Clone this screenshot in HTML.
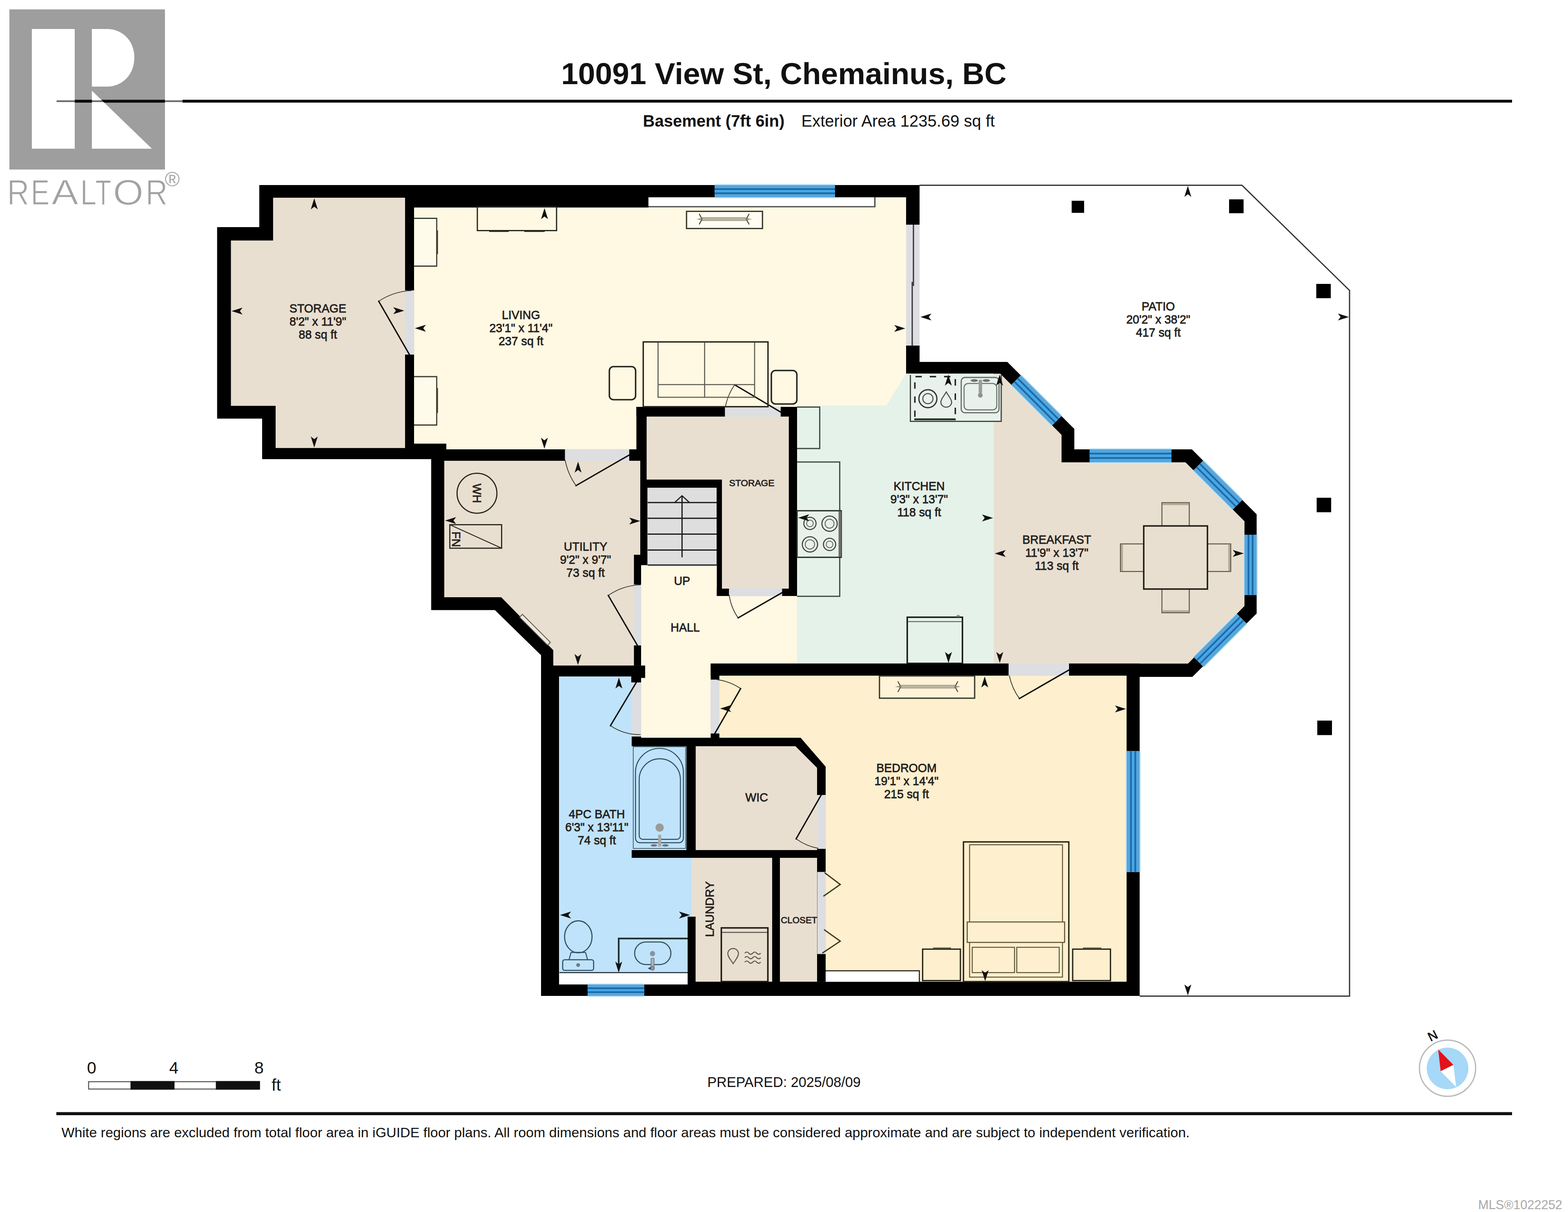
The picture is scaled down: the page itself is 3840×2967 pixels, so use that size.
<!DOCTYPE html>
<html lang="en"><head><meta charset="utf-8"><title>10091 View St, Chemainus, BC - Basement floor plan</title>
<style>
html,body{margin:0;padding:0;background:#fff;}
body{width:3840px;height:2967px;overflow:hidden;}
svg{display:block;font-family:"Liberation Sans",sans-serif;}
</style></head><body>
<svg width="3840" height="2967" viewBox="0 0 3840 2967">
<rect width="3840" height="2967" fill="#fff"/>
<text x="1919.5" y="206.0" font-size="75" text-anchor="middle" font-weight="bold" fill="#111" >10091 View St, Chemainus, BC</text>
<rect x="138.0" y="244.2" width="3565.0" height="7.0" fill="#0a0a0a" />
<text x="1574.5" y="310.0" font-size="40" text-anchor="start" font-weight="bold" fill="#111" >Basement (7ft 6in)</text>
<text x="1962.5" y="310.0" font-size="40" text-anchor="start" font-weight="normal" fill="#111" >Exterior Area 1235.69 sq ft</text>
<g id="realtor-logo" aria-label="REALTOR®"><title>REALTOR®</title>
<rect x="130.0" y="240.0" width="317.0" height="16.0" fill="#fff" />
<rect x="23.0" y="23.0" width="381.0" height="392.0" fill="#9e9e9e" />
<rect x="78.0" y="71.0" width="105.0" height="293.0" fill="#fff" />
<path d="M225,71 L262,71 C300,71 329,100 329,141 C329,182 300,212 262,212 L225,212 Z" fill="#fff"/>
<path d="M225,222 L372,364 L225,364 Z" fill="#fff"/>
<rect x="138.5" y="245.6" width="44.5" height="4.2" fill="#6a6a6a" />
<rect x="183.0" y="244.2" width="42.5" height="7.0" fill="#0a0a0a" />
<rect x="225.5" y="245.6" width="28.5" height="4.2" fill="#6a6a6a" />
<polygon points="248,244.2 404,244.2 404,251.2 255.2,251.2" fill="#0a0a0a"/>
<rect x="404.0" y="245.6" width="43.0" height="4.2" fill="#6a6a6a" />
<text y="501" font-size="87" fill="#a2a2a2" stroke="#fff" stroke-width="1.6"><tspan x="17.5" textLength="54" lengthAdjust="spacingAndGlyphs">R</tspan><tspan x="75.5" textLength="46" lengthAdjust="spacingAndGlyphs">E</tspan><tspan x="126" textLength="66" lengthAdjust="spacingAndGlyphs">A</tspan><tspan x="196.5" textLength="40" lengthAdjust="spacingAndGlyphs">L</tspan><tspan x="233.5" textLength="39" lengthAdjust="spacingAndGlyphs">T</tspan><tspan x="276.5" textLength="75" lengthAdjust="spacingAndGlyphs">O</tspan><tspan x="356.5" textLength="54" lengthAdjust="spacingAndGlyphs">R</tspan></text>
<text x="403.5" y="455.5" font-size="50" fill="#a6a6a6">®</text>
</g>
<g id="plan">
<polyline points="2252,453.5 3041.5,453.5 3305,711 3305,2438.5 2791,2438.5" fill="none" stroke="#333" stroke-width="3"/>
<rect x="2624.5" y="491.5" width="30.5" height="29.5" fill="#000" />
<rect x="3010.0" y="488.0" width="35.5" height="34.0" fill="#000" />
<rect x="3223.5" y="695.0" width="35.5" height="35.0" fill="#000" />
<rect x="3224.5" y="1218.5" width="35.5" height="35.5" fill="#000" />
<rect x="3226.0" y="1764.0" width="36.0" height="35.5" fill="#000" />
<polygon points="635.0,453.0 2252.0,453.0 2252.0,886.0 2467.0,886.0 2631.0,1050.0 2631.0,1100.0 2919.0,1100.0 3077.5,1259.0 3077.5,1502.0 2920.0,1657.0 2791.0,1657.0 2791.0,2438.0 1325.0,2438.0 1325.0,1604.0 1212.0,1493.5 1056.0,1493.5 1056.0,1124.0 642.0,1124.0 642.0,1024.7 531.7,1024.7 531.7,556.0 635.0,556.0" fill="#000" />
<polygon points="668.8,484.0 992.0,484.0 992.0,1096.7 675.0,1096.7 675.0,993.4 565.5,993.4 565.5,588.8 668.8,588.8" fill="#e9dfd0" />
<polygon points="1014.0,508.0 1588.0,508.0 1588.0,483.0 2219.0,483.0 2219.0,1000.0 1952.0,1000.0 1952.0,1100.0 1093.0,1100.0 1093.0,1086.0 1014.0,1086.0" fill="#fff8e2" />
<polygon points="1570.0,1382.0 1953.0,1382.0 1953.0,1624.5 1761.7,1624.5 1761.7,1806.0 1547.0,1806.0 1547.0,1629.5 1570.0,1629.5" fill="#fff8e2" />
<polygon points="1952.0,992.5 2171.0,992.5 2219.0,914.5 2434.0,914.5 2434.0,1624.5 1952.0,1624.5" fill="#e5f2e9" />
<polygon points="2434.0,914.8 2449.5,914.8 2599.7,1064.5 2599.7,1131.8 2903.3,1131.8 3047.7,1276.0 3047.7,1483.4 2909.5,1624.5 2434.0,1624.5" fill="#e9dfd0" />
<polygon points="1088.0,1128.0 1570.0,1128.0 1570.0,1629.5 1355.0,1629.5 1355.0,1591.7 1227.5,1462.0 1088.0,1462.0" fill="#e9dfd0" />
<polygon points="1583.0,1019.7 1932.0,1019.7 1932.0,1458.0 1768.0,1458.0 1768.0,1174.0 1583.0,1174.0" fill="#e9dfd0" />
<rect x="1585.0" y="1193.6" width="170.0" height="189.0" fill="#dedede" />
<polygon points="1369.0,1656.0 1570.0,1656.0 1570.0,1826.6 1681.0,1826.6 1681.0,2100.0 1693.0,2100.0 1693.0,2410.0 1369.0,2410.0" fill="#bfe3fb" />
<rect x="1693.0" y="2100.0" width="198.0" height="303.5" fill="#e9dfd0" />
<rect x="1910.0" y="2100.0" width="112.0" height="303.5" fill="#e9dfd0" />
<polygon points="1703.5,1826.6 1948.0,1826.6 2001.0,1879.5 2022.0,1946.5 2022.0,2081.0 1703.5,2081.0" fill="#e9dfd0" />
<polygon points="1740.5,1654.0 2759.0,1654.0 2759.0,2403.5 2022.0,2403.5 2022.0,1877.0 1960.5,1806.0 1740.5,1806.0" fill="#feefce" />
<rect x="1588.0" y="483.0" width="554.5" height="23.0" fill="#fff" />
<path d="M1588,506 H2142.5 V483" fill="none" stroke="#4a4c49" stroke-width="3.2"/>
<rect x="1370.0" y="2381.0" width="314.0" height="29.5" fill="#fff" />
<rect x="2022.0" y="2376.5" width="229.0" height="27.5" fill="#fff" />
<path d="M2022,2376.5 H2251.5 V2404" fill="none" stroke="#3c3a30" stroke-width="3"/>
<rect x="992.0" y="484.0" width="22.0" height="616.0" fill="#000" />
<rect x="1056.0" y="1100.0" width="514.0" height="28.0" fill="#000" />
<rect x="1014.0" y="1086.0" width="79.0" height="14.0" fill="#000" />
<rect x="1558.5" y="996.0" width="393.5" height="23.8" fill="#000" />
<rect x="1558.5" y="996.0" width="25.1" height="132.0" fill="#000" />
<rect x="1931.8" y="996.0" width="20.2" height="463.0" fill="#000" />
<rect x="1568.0" y="1128.0" width="15.6" height="47.0" fill="#000" />
<rect x="1568.0" y="1174.0" width="17.5" height="209.5" fill="#000" />
<rect x="1570.0" y="1174.0" width="198.0" height="19.8" fill="#000" />
<rect x="1755.5" y="1174.0" width="12.5" height="285.0" fill="#000" />
<rect x="1755.5" y="1441.0" width="196.5" height="18.0" fill="#000" />
<rect x="1552.5" y="1358.0" width="17.5" height="271.5" fill="#000" />
<rect x="1325.0" y="1629.5" width="255.0" height="26.5" fill="#000" />
<rect x="1546.0" y="1629.5" width="34.0" height="30.1" fill="#000" />
<rect x="1546.0" y="1659.0" width="24.0" height="11.6" fill="#000" />
<rect x="1547.0" y="1656.0" width="23.0" height="170.6" fill="#000" />
<polygon points="1547.0,1806.0 1960.5,1806.0 2022.0,1877.0 2022.0,1946.5 2001.0,1946.5 2001.0,1879.5 1948.0,1826.6 1547.0,1826.6" fill="#000" />
<rect x="1740.5" y="1624.5" width="1050.5" height="29.5" fill="#000" />
<rect x="1740.5" y="1624.5" width="21.2" height="201.5" fill="#000" />
<rect x="1681.0" y="1826.6" width="22.5" height="273.4" fill="#000" />
<rect x="1547.0" y="2081.0" width="475.0" height="19.0" fill="#000" />
<rect x="2001.0" y="2077.5" width="21.0" height="326.0" fill="#000" />
<rect x="1891.0" y="2100.0" width="19.0" height="303.5" fill="#000" />
<rect x="1684.0" y="2244.0" width="19.5" height="166.0" fill="#000" />
<rect x="1684.0" y="2403.5" width="1107.0" height="34.5" fill="#000" />
<rect x="1325.0" y="2410.0" width="375.0" height="28.0" fill="#000" />
<rect x="991.5" y="711.0" width="23.0" height="157.0" fill="#dddee1" />
<rect x="1383.5" y="1099.5" width="157.5" height="29.0" fill="#dddee1" />
<rect x="1775.3" y="995.5" width="136.6" height="24.5" fill="#dddee1" />
<rect x="1785.2" y="1439.0" width="130.2" height="20.5" fill="#dddee1" />
<rect x="1551.5" y="1431.0" width="19.0" height="149.0" fill="#dddee1" />
<rect x="1546.0" y="1670.6" width="24.5" height="132.4" fill="#dddee1" />
<rect x="1740.0" y="1663.7" width="22.0" height="131.9" fill="#dddee1" />
<rect x="2470.0" y="1624.0" width="148.0" height="30.5" fill="#dddee1" />
<rect x="2001.5" y="1946.2" width="21.0" height="131.8" fill="#dddee1" />
<rect x="2001.5" y="2134.5" width="21.0" height="201.0" fill="#dddee1" />
<rect x="2219.0" y="550.0" width="33.0" height="296.0" fill="#dddee1" />
<line x1="2237.0" y1="550.0" x2="2237.0" y2="700.0" stroke="#333" stroke-width="3" />
<line x1="2234.0" y1="690.0" x2="2234.0" y2="846.0" stroke="#333" stroke-width="3" />
<g transform="translate(1750.4,468.0) rotate(0.00)">
<rect x="0" y="-17.5" width="294.6" height="35.0" fill="#bfe6fa"/>
<rect x="0" y="-15.0" width="294.6" height="30.0" fill="#58a6da"/>
<rect x="0" y="-5.1" width="294.6" height="10.2" fill="#47a7e6"/>
<rect x="0" y="-7.2" width="294.6" height="4.2" fill="#1b6aa9"/>
<rect x="0" y="3.0" width="294.6" height="4.2" fill="#1b6aa9"/>
</g>
<g transform="translate(2488.5,930.5) rotate(45.00)">
<rect x="0" y="-19.0" width="140.7" height="38.0" fill="#bfe6fa"/>
<rect x="0" y="-16.5" width="140.7" height="33.0" fill="#58a6da"/>
<rect x="0" y="-5.6" width="140.7" height="11.2" fill="#47a7e6"/>
<rect x="0" y="-7.7" width="140.7" height="4.2" fill="#1b6aa9"/>
<rect x="0" y="3.5" width="140.7" height="4.2" fill="#1b6aa9"/>
</g>
<g transform="translate(2668.7,1115.8) rotate(0.00)">
<rect x="0" y="-18.5" width="200.3" height="37.0" fill="#bfe6fa"/>
<rect x="0" y="-16.0" width="200.3" height="32.0" fill="#58a6da"/>
<rect x="0" y="-5.4" width="200.3" height="10.9" fill="#47a7e6"/>
<rect x="0" y="-7.5" width="200.3" height="4.2" fill="#1b6aa9"/>
<rect x="0" y="3.3" width="200.3" height="4.2" fill="#1b6aa9"/>
</g>
<g transform="translate(2934.6,1139.6) rotate(45.00)">
<rect x="0" y="-19.2" width="135.9" height="38.5" fill="#bfe6fa"/>
<rect x="0" y="-16.8" width="135.9" height="33.5" fill="#58a6da"/>
<rect x="0" y="-5.7" width="135.9" height="11.4" fill="#47a7e6"/>
<rect x="0" y="-7.8" width="135.9" height="4.2" fill="#1b6aa9"/>
<rect x="0" y="3.6" width="135.9" height="4.2" fill="#1b6aa9"/>
</g>
<g transform="translate(3062.6,1309.0) rotate(90.00)">
<rect x="0" y="-17.5" width="147.4" height="35.0" fill="#bfe6fa"/>
<rect x="0" y="-15.0" width="147.4" height="30.0" fill="#58a6da"/>
<rect x="0" y="-5.1" width="147.4" height="10.2" fill="#47a7e6"/>
<rect x="0" y="-7.2" width="147.4" height="4.2" fill="#1b6aa9"/>
<rect x="0" y="3.0" width="147.4" height="4.2" fill="#1b6aa9"/>
</g>
<g transform="translate(3041.0,1514.5) rotate(134.97)">
<rect x="0" y="-19.2" width="149.6" height="38.5" fill="#bfe6fa"/>
<rect x="0" y="-16.8" width="149.6" height="33.5" fill="#58a6da"/>
<rect x="0" y="-5.7" width="149.6" height="11.4" fill="#47a7e6"/>
<rect x="0" y="-7.8" width="149.6" height="4.2" fill="#1b6aa9"/>
<rect x="0" y="3.6" width="149.6" height="4.2" fill="#1b6aa9"/>
</g>
<g transform="translate(2775.0,1838.7) rotate(90.00)">
<rect x="0" y="-18.5" width="296.1" height="37.0" fill="#bfe6fa"/>
<rect x="0" y="-16.0" width="296.1" height="32.0" fill="#58a6da"/>
<rect x="0" y="-5.4" width="296.1" height="10.9" fill="#47a7e6"/>
<rect x="0" y="-7.5" width="296.1" height="4.2" fill="#1b6aa9"/>
<rect x="0" y="3.3" width="296.1" height="4.2" fill="#1b6aa9"/>
</g>
<g transform="translate(1439.0,2424.0) rotate(0.00)">
<rect x="0" y="-16.5" width="138.5" height="33.0" fill="#bfe6fa"/>
<rect x="0" y="-14.0" width="138.5" height="28.0" fill="#58a6da"/>
<rect x="0" y="-4.8" width="138.5" height="9.5" fill="#47a7e6"/>
<rect x="0" y="-6.9" width="138.5" height="4.2" fill="#1b6aa9"/>
<rect x="0" y="2.7" width="138.5" height="4.2" fill="#1b6aa9"/>
</g>
</g>
<g id="furniture" fill="none" stroke-linejoin="miter">
<path d="M927.5,737.5 A157.3,157.3 0 0 1 1008.0,711.4" stroke="#3a3a36" stroke-width="1.9"/>
<line x1="1003.0" y1="868.6" x2="927.5" y2="737.5" stroke="#0d0d0d" stroke-width="3.3" stroke-linecap="square"/>
<path d="M1410.7,1188.8 A157.2,157.2 0 0 1 1384.0,1126.0" stroke="#3a3a36" stroke-width="1.9"/>
<line x1="1540.7" y1="1114.0" x2="1410.7" y2="1188.8" stroke="#0d0d0d" stroke-width="3.3" stroke-linecap="square"/>
<path d="M1799.2,942.0 A136.1,136.1 0 0 0 1776.4,996.5" stroke="#3a3a36" stroke-width="1.9"/>
<line x1="1911.9" y1="1008.8" x2="1799.2" y2="942.0" stroke="#0d0d0d" stroke-width="3.3" stroke-linecap="square"/>
<path d="M1807.7,1512.6 A129.8,129.8 0 0 1 1785.7,1456.5" stroke="#3a3a36" stroke-width="1.9"/>
<line x1="1915.4" y1="1450.8" x2="1807.7" y2="1512.6" stroke="#0d0d0d" stroke-width="3.3" stroke-linecap="square"/>
<path d="M1489.6,1457.7 A148.6,148.6 0 0 1 1569.0,1431.6" stroke="#3a3a36" stroke-width="1.9"/>
<line x1="1561.0" y1="1580.0" x2="1489.6" y2="1457.7" stroke="#0d0d0d" stroke-width="3.3" stroke-linecap="square"/>
<path d="M1495.0,1776.4 A128.3,128.3 0 0 0 1569.0,1798.4" stroke="#3a3a36" stroke-width="1.9"/>
<line x1="1558.2" y1="1670.6" x2="1495.0" y2="1776.4" stroke="#0d0d0d" stroke-width="3.3" stroke-linecap="square"/>
<path d="M1813.8,1685.7 A132.0,132.0 0 0 0 1756.0,1663.7" stroke="#3a3a36" stroke-width="1.9"/>
<line x1="1750.6" y1="1795.6" x2="1813.8" y2="1685.7" stroke="#0d0d0d" stroke-width="3.3" stroke-linecap="square"/>
<path d="M2496.5,1710.1 A146.5,146.5 0 0 1 2471.7,1653.5" stroke="#3a3a36" stroke-width="1.9"/>
<line x1="2617.6" y1="1640.3" x2="2496.5" y2="1710.1" stroke="#0d0d0d" stroke-width="3.3" stroke-linecap="square"/>
<path d="M1949.7,2053.4 A130.7,130.7 0 0 0 2004.0,2076.7" stroke="#3a3a36" stroke-width="1.9"/>
<line x1="2011.0" y1="1946.2" x2="1949.7" y2="2053.4" stroke="#0d0d0d" stroke-width="3.3" stroke-linecap="square"/>
<polyline points="2019.3,2136.3 2057.8,2165.2 2016.5,2194" stroke="#3b3620" stroke-width="3"/>
<polyline points="2018,2275.6 2057.8,2304 2013.8,2333.3" stroke="#3b3620" stroke-width="3"/>
<path d="M1014,534.5 H1069.5 V651.5 H1014" stroke="#3f3c30" stroke-width="2.8" fill="#fffbea"/>
<line x1="1070.6" y1="564.0" x2="1070.6" y2="622.0" stroke="#3f3c30" stroke-width="4" />
<path d="M1014,922 H1069.5 V1040.5 H1014" stroke="#3f3c30" stroke-width="2.8" fill="#fffbea"/>
<line x1="1070.6" y1="950.0" x2="1070.6" y2="1011.0" stroke="#3f3c30" stroke-width="4" />
<rect x="1169.0" y="506.0" width="194.0" height="58.5" fill="none" stroke="#26241f" stroke-width="3" rx="0" />
<line x1="1198.0" y1="566.5" x2="1246.0" y2="566.5" stroke="#26241f" stroke-width="2.5" />
<line x1="1284.0" y1="566.5" x2="1334.0" y2="566.5" stroke="#26241f" stroke-width="2.5" />
<rect x="1575.3" y="837.0" width="305.5" height="158.6" fill="none" stroke="#26241f" stroke-width="3.4" rx="0" />
<path d="M1611.6,838 V972.5 H1848 V838 M1611.6,941.5 H1848 M1725.6,838 V972.5" stroke="#5e5a4e" stroke-width="2.6"/>
<rect x="1492.3" y="897.5" width="64.3" height="81.0" fill="none" stroke="#26241f" stroke-width="3.6" rx="10" />
<rect x="1889.0" y="907.0" width="62.5" height="82.0" fill="none" stroke="#26241f" stroke-width="3.6" rx="10" />
<rect x="1681.3" y="517.4" width="186.0" height="42.0" fill="#fffdf2" stroke="#3d3a2c" stroke-width="3.2" rx="0" />
<rect x="1719.3" y="532.6" width="108.4" height="7.6" fill="#b9b5a0" stroke="#8a866f" stroke-width="1"/>
<path d="M1712.3,523.4 L1719.3,536.4 L1712.3,549.4" stroke="#4a4735" stroke-width="2.4"/>
<path d="M1719.3,533.9 L1705.3,536.4 L1719.3,538.9" fill="#8d8973" stroke="none"/>
<path d="M1834.7,523.4 L1827.7,536.4 L1834.7,549.4" stroke="#4a4735" stroke-width="2.4"/>
<path d="M1827.7,533.9 L1841.7,536.4 L1827.7,538.9" fill="#8d8973" stroke="none"/>
<rect x="2153.8" y="1654.7" width="233.1" height="54.5" fill="#fff3d8" stroke="#3d3a2c" stroke-width="3.2" rx="0" />
<rect x="2205.8" y="1677.2" width="133.0" height="7.6" fill="#b9b5a0" stroke="#8a866f" stroke-width="1"/>
<path d="M2198.8,1668.0 L2205.8,1681.0 L2198.8,1694.0" stroke="#4a4735" stroke-width="2.4"/>
<path d="M2205.8,1678.5 L2191.8,1681.0 L2205.8,1683.5" fill="#8d8973" stroke="none"/>
<path d="M2345.8,1668.0 L2338.8,1681.0 L2345.8,1694.0" stroke="#4a4735" stroke-width="2.4"/>
<path d="M2338.8,1678.5 L2352.8,1681.0 L2338.8,1683.5" fill="#8d8973" stroke="none"/>
<circle cx="1168.1" cy="1207.5" r="48.8" stroke="#26241f" stroke-width="2.8"/>
<rect x="1101.6" y="1284.5" width="126.9" height="57.5" fill="none" stroke="#26241f" stroke-width="2.8" rx="0" />
<line x1="1101.6" y1="1284.5" x2="1228.5" y2="1342.0" stroke="#26241f" stroke-width="2.2" />
<polygon points="1279.4,1504 1348,1572.5 1341,1579.5 1272.4,1511" fill="#efe8dc" stroke="#55524a" stroke-width="2"/>
<line x1="1586.0" y1="1230.2" x2="1755.5" y2="1230.2" stroke="#1a1a1a" stroke-width="3" />
<line x1="1586.0" y1="1268.7" x2="1755.5" y2="1268.7" stroke="#1a1a1a" stroke-width="3" />
<line x1="1586.0" y1="1307.4" x2="1755.5" y2="1307.4" stroke="#1a1a1a" stroke-width="3" />
<line x1="1586.0" y1="1346.4" x2="1755.5" y2="1346.4" stroke="#1a1a1a" stroke-width="3" />
<line x1="1586.0" y1="1383.3" x2="1755.5" y2="1383.3" stroke="#1a1a1a" stroke-width="3" />
<line x1="1670.3" y1="1214.5" x2="1670.3" y2="1364.3" stroke="#1a1a1a" stroke-width="3" />
<polyline points="1652.5,1230 1670.3,1213.5 1688.2,1230" stroke="#1a1a1a" stroke-width="2.6"/>
<path d="M1952,996.4 H2007.5 V1098 H1952" stroke="#3f4a45" stroke-width="3"/>
<path d="M1952,1131 H2056.5 V1251" stroke="#3f4a45" stroke-width="3"/>
<path d="M2056.5,1364.3 V1459.8 H1952" stroke="#3f4a45" stroke-width="3"/>
<rect x="1952" y="1250.3" width="108.3" height="114" fill="#e9f0ea" stroke="#2a2f2c" stroke-width="3.2"/>
<rect x="2053.6" y="1251.5" width="6.8" height="111.5" fill="#6a6f6b" />
<circle cx="1983.5" cy="1281.3" r="15" stroke="#3b403c" stroke-width="2.6"/>
<circle cx="1983.5" cy="1281.3" r="8.2" stroke="#5b605c" stroke-width="2"/>
<circle cx="2031.6" cy="1281.9" r="18.7" stroke="#3b403c" stroke-width="2.6"/>
<circle cx="2031.6" cy="1281.9" r="11" stroke="#5b605c" stroke-width="2"/>
<circle cx="1983.5" cy="1332.7" r="18.7" stroke="#3b403c" stroke-width="2.6"/>
<circle cx="1983.5" cy="1332.7" r="11.5" stroke="#5b605c" stroke-width="2"/>
<circle cx="2031.6" cy="1332.7" r="15" stroke="#3b403c" stroke-width="2.6"/>
<circle cx="2031.6" cy="1332.7" r="8.2" stroke="#5b605c" stroke-width="2"/>
<path d="M2229.5,918 V1031.5 H2452 V918" fill="#e8f1ec" stroke="#444944" stroke-width="3"/>
<path d="M2240,922 H2339.5" stroke="#1c1c1c" stroke-width="3.4" stroke-dasharray="15.5,19.5" stroke-dashoffset="-2"/>
<path d="M2240.5,936 V1026" stroke="#1c1c1c" stroke-width="3.4" stroke-dasharray="15.5,19"/>
<path d="M2339.5,928 V1026" stroke="#1c1c1c" stroke-width="3.4" stroke-dasharray="16,19"/>
<line x1="2239.0" y1="1026.5" x2="2340.5" y2="1026.5" stroke="#262a27" stroke-width="4.6" />
<circle cx="2272.4" cy="975.9" r="22" stroke="#2f332f" stroke-width="3"/>
<circle cx="2272.4" cy="975.9" r="12.4" stroke="#4a4e4a" stroke-width="2.6"/>
<path d="M2317.3,959.5 C2323,970 2330.5,977 2330.5,984.5 A13.2,12.2 0 0 1 2304.1,984.5 C2304.1,977 2311.6,970 2317.3,959.5 Z" stroke="#4a4e4a" stroke-width="2.6"/>
<rect x="2354.0" y="924.0" width="92.6" height="86.3" fill="none" stroke="#666a66" stroke-width="2.8" rx="9" />
<rect x="2361.0" y="938.8" width="80.0" height="64.6" fill="none" stroke="#70746f" stroke-width="2.6" rx="10" />
<rect x="2396.8" y="929.7" width="8.3" height="32.3" fill="#9a9d99" />
<circle cx="2400.8" cy="967.6" r="5.8" fill="#8e918d"/>
<ellipse cx="2386" cy="931.5" rx="9" ry="3.2" fill="#6f726f"/><ellipse cx="2415.5" cy="931.5" rx="9" ry="3.2" fill="#6f726f"/>
<rect x="2221.8" y="1511" width="135.2" height="113" fill="#e5f2e9" stroke="#161616" stroke-width="3.6"/>
<line x1="2223.0" y1="1521.7" x2="2356.0" y2="1521.7" stroke="#6c706c" stroke-width="2.4" />
<circle cx="2346.5" cy="1509.5" r="3.2" stroke="#555" stroke-width="1.6"/>
<rect x="2845.5" y="1230.5" width="67.0" height="57.5" fill="none" stroke="#5d5648" stroke-width="2.4" rx="0" />
<rect x="2846.5" y="1231.5" width="65.0" height="5.0" fill="#b3a996" />
<rect x="2845.5" y="1442.0" width="67.0" height="58.0" fill="none" stroke="#5d5648" stroke-width="2.4" rx="0" />
<rect x="2846.5" y="1494.0" width="65.0" height="5.0" fill="#b3a996" />
<rect x="2744.0" y="1331.5" width="57.0" height="67.5" fill="none" stroke="#5d5648" stroke-width="2.4" rx="0" />
<rect x="2745.0" y="1332.5" width="5.0" height="65.5" fill="#b3a996" />
<rect x="2957.0" y="1331.5" width="57.0" height="67.5" fill="none" stroke="#5d5648" stroke-width="2.4" rx="0" />
<rect x="3008.0" y="1332.5" width="5.0" height="65.5" fill="#b3a996" />
<rect x="2801" y="1287.5" width="156" height="154.5" fill="#e9dfd0" stroke="#1f1b17" stroke-width="3.6"/>
<rect x="2359.5" y="2061.0" width="258.0" height="342.0" fill="none" stroke="#2a2416" stroke-width="3.4" rx="0" />
<rect x="2374.5" y="2068.0" width="227.5" height="324.0" fill="none" stroke="#5f5638" stroke-width="2.4" rx="0" />
<rect x="2368.7" y="2257" width="238.5" height="50" fill="#feefce" stroke="#5f5638" stroke-width="2.6"/>
<rect x="2381.0" y="2319.0" width="103.6" height="62.0" fill="none" stroke="#5f5638" stroke-width="2.4" rx="0" />
<rect x="2490.0" y="2319.0" width="104.0" height="62.0" fill="none" stroke="#5f5638" stroke-width="2.4" rx="0" />
<rect x="2259.5" y="2323.5" width="92.5" height="77.0" fill="none" stroke="#2a2416" stroke-width="3.2" rx="0" />
<rect x="2627.0" y="2323.5" width="92.5" height="77.0" fill="none" stroke="#2a2416" stroke-width="3.2" rx="0" />
<line x1="2285.0" y1="2321.0" x2="2329.0" y2="2321.0" stroke="#5d5948" stroke-width="3" />
<line x1="2652.0" y1="2321.0" x2="2697.0" y2="2321.0" stroke="#5d5948" stroke-width="3" />
<rect x="1766.5" y="2271.5" width="114.0" height="131.5" fill="none" stroke="#1c1812" stroke-width="3.6" rx="0" />
<line x1="1768.0" y1="2282.5" x2="1879.0" y2="2282.5" stroke="#5c564a" stroke-width="2.4" />
<path d="M1795.4,2359 C1789,2349 1782.4,2342 1782.4,2334.5 A13,12.5 0 0 1 1808.4,2334.5 C1808.4,2342 1801.8,2349 1795.4,2359 Z" stroke="#5c564a" stroke-width="2.4"/>
<path d="M1824,2333.4 q4.8,-5.5 9.7,0 t9.7,0 t9.7,0 t9.7,0" stroke="#5c564a" stroke-width="2.4"/>
<path d="M1824,2344.4 q4.8,-5.5 9.7,0 t9.7,0 t9.7,0 t9.7,0" stroke="#5c564a" stroke-width="2.4"/>
<path d="M1824,2355.4 q4.8,-5.5 9.7,0 t9.7,0 t9.7,0 t9.7,0" stroke="#5c564a" stroke-width="2.4"/>
<rect x="1550.8" y="1828.0" width="128.2" height="249.0" fill="none" stroke="#3c5666" stroke-width="1.8" rx="0" />
<path d="M1556.3,2052 V1890.8 A58.6,58.6 0 0 1 1673.6,1890.8 V2052 A11,11 0 0 1 1662.6,2063 H1567.3 A11,11 0 0 1 1556.3,2052 Z" stroke="#2f4c5c" stroke-width="2.4"/>
<path d="M1565.4,2045.7 V1907.9 A50.4,50.4 0 0 1 1666.2,1907.9 V2045.7 A9,9 0 0 1 1657.2,2054.7 H1574.4 A9,9 0 0 1 1565.4,2045.7 Z" stroke="#2f4c5c" stroke-width="2.4"/>
<circle cx="1615.4" cy="2026" r="10.2" fill="#9b9b9b"/>
<rect x="1611.8" y="2043.5" width="7.6" height="29.0" fill="#a9a9a9" />
<ellipse cx="1601.5" cy="2069.5" rx="8" ry="3" fill="#70767a"/><ellipse cx="1629.5" cy="2069.5" rx="8" ry="3" fill="#70767a"/>
<ellipse cx="1416.3" cy="2293.3" rx="33.6" ry="39.2" stroke="#2f4c5c" stroke-width="2.6"/>
<path d="M1398.5,2331.5 H1434 M1398.5,2331.5 L1393.5,2349.5 M1434,2331.5 L1439,2349.5" stroke="#2f4c5c" stroke-width="2.4"/>
<rect x="1378.0" y="2349.5" width="75.8" height="26.0" fill="none" stroke="#2f4c5c" stroke-width="2.6" rx="5" />
<circle cx="1415.8" cy="2362.5" r="4.6" fill="#6a7b84"/>
<path d="M1684,2297.4 H1515.2 V2372" stroke="#1d2a32" stroke-width="4"/>
<line x1="1370.0" y1="2381.0" x2="1684.0" y2="2381.0" stroke="#1d2a32" stroke-width="2.6" />
<rect x="1554.2" y="2306.0" width="88.8" height="55.2" fill="none" stroke="#2f4c5c" stroke-width="2.6" rx="27.6" />
<circle cx="1598" cy="2334.5" r="6.4" fill="#8694a0"/>
<rect x="1594.3" y="2346" width="7.6" height="24" fill="#a9b0b6" stroke="#66727a" stroke-width="1.4"/>
<circle cx="1598" cy="2370.5" r="4.8" fill="#8d959b" stroke="#5a656c" stroke-width="1.2"/>
<polygon points="1586.5,2370.5 1593.5,2366.8 1593.5,2374.2" fill="#3a454c"/>
</g>
<g id="arrows">
<polygon points="0.0,0.0 -27.0,-8.5 -20.5,0.0 -27.0,8.5" fill="#111" transform="translate(769.6,485.5) rotate(-90)"/>
<polygon points="0.0,0.0 -27.0,-8.5 -20.5,0.0 -27.0,8.5" fill="#111" transform="translate(769.6,1095.5) rotate(90)"/>
<polygon points="0.0,0.0 -27.0,-8.5 -20.5,0.0 -27.0,8.5" fill="#111" transform="translate(567.0,761.5) rotate(180)"/>
<polygon points="0.0,0.0 -27.0,-8.5 -20.5,0.0 -27.0,8.5" fill="#111" transform="translate(990.0,760.6) rotate(0)"/>
<polygon points="0.0,0.0 -27.0,-8.5 -20.5,0.0 -27.0,8.5" fill="#111" transform="translate(1333.5,509.5) rotate(-90)"/>
<polygon points="0.0,0.0 -27.0,-8.5 -20.5,0.0 -27.0,8.5" fill="#111" transform="translate(1333.2,1098.5) rotate(90)"/>
<polygon points="0.0,0.0 -27.0,-8.5 -20.5,0.0 -27.0,8.5" fill="#111" transform="translate(1016.0,803.5) rotate(180)"/>
<polygon points="0.0,0.0 -27.0,-8.5 -20.5,0.0 -27.0,8.5" fill="#111" transform="translate(2217.0,804.0) rotate(0)"/>
<polygon points="0.0,0.0 -27.0,-8.5 -20.5,0.0 -27.0,8.5" fill="#111" transform="translate(1415.7,1130.0) rotate(-90)"/>
<polygon points="0.0,0.0 -27.0,-8.5 -20.5,0.0 -27.0,8.5" fill="#111" transform="translate(1415.4,1628.0) rotate(90)"/>
<polygon points="0.0,0.0 -27.0,-8.5 -20.5,0.0 -27.0,8.5" fill="#111" transform="translate(1090.0,1274.3) rotate(180)"/>
<polygon points="0.0,0.0 -27.0,-8.5 -20.5,0.0 -27.0,8.5" fill="#111" transform="translate(1568.0,1275.5) rotate(0)"/>
<polygon points="0.0,0.0 -27.0,-8.5 -20.5,0.0 -27.0,8.5" fill="#111" transform="translate(2322.4,917.0) rotate(-90)"/>
<polygon points="0.0,0.0 -27.0,-8.5 -20.5,0.0 -27.0,8.5" fill="#111" transform="translate(2322.8,1623.0) rotate(90)"/>
<polygon points="0.0,0.0 -27.0,-8.5 -20.5,0.0 -27.0,8.5" fill="#111" transform="translate(1954.7,1267.6) rotate(180)"/>
<polygon points="0.0,0.0 -27.0,-8.5 -20.5,0.0 -27.0,8.5" fill="#111" transform="translate(2432.0,1268.0) rotate(0)"/>
<polygon points="0.0,0.0 -27.0,-8.5 -20.5,0.0 -27.0,8.5" fill="#111" transform="translate(2448.1,917.0) rotate(-90)"/>
<polygon points="0.0,0.0 -27.0,-8.5 -20.5,0.0 -27.0,8.5" fill="#111" transform="translate(2448.4,1623.0) rotate(90)"/>
<polygon points="0.0,0.0 -27.0,-8.5 -20.5,0.0 -27.0,8.5" fill="#111" transform="translate(2436.0,1355.0) rotate(180)"/>
<polygon points="0.0,0.0 -27.0,-8.5 -20.5,0.0 -27.0,8.5" fill="#111" transform="translate(3046.0,1354.8) rotate(0)"/>
<polygon points="0.0,0.0 -27.0,-8.5 -20.5,0.0 -27.0,8.5" fill="#111" transform="translate(2411.5,1656.0) rotate(-90)"/>
<polygon points="0.0,0.0 -27.0,-8.5 -20.5,0.0 -27.0,8.5" fill="#111" transform="translate(2412.6,2402.0) rotate(90)"/>
<polygon points="0.0,0.0 -27.0,-8.5 -20.5,0.0 -27.0,8.5" fill="#111" transform="translate(1763.5,1734.6) rotate(180)"/>
<polygon points="0.0,0.0 -27.0,-8.5 -20.5,0.0 -27.0,8.5" fill="#111" transform="translate(2757.5,1735.4) rotate(0)"/>
<polygon points="0.0,0.0 -27.0,-8.5 -20.5,0.0 -27.0,8.5" fill="#111" transform="translate(1515.7,1658.5) rotate(-90)"/>
<polygon points="0.0,0.0 -27.0,-8.5 -20.5,0.0 -27.0,8.5" fill="#111" transform="translate(1515.2,2381.0) rotate(90)"/>
<polygon points="0.0,0.0 -27.0,-8.5 -20.5,0.0 -27.0,8.5" fill="#111" transform="translate(1371.4,2240.0) rotate(180)"/>
<polygon points="0.0,0.0 -27.0,-8.5 -20.5,0.0 -27.0,8.5" fill="#111" transform="translate(1690.0,2240.0) rotate(0)"/>
<polygon points="0.0,0.0 -27.0,-8.5 -20.5,0.0 -27.0,8.5" fill="#111" transform="translate(2909.0,455.0) rotate(-90)"/>
<polygon points="0.0,0.0 -27.0,-8.5 -20.5,0.0 -27.0,8.5" fill="#111" transform="translate(2909.0,2437.0) rotate(90)"/>
<polygon points="0.0,0.0 -27.0,-8.5 -20.5,0.0 -27.0,8.5" fill="#111" transform="translate(2254.0,776.0) rotate(180)"/>
<polygon points="0.0,0.0 -27.0,-8.5 -20.5,0.0 -27.0,8.5" fill="#111" transform="translate(3303.5,776.0) rotate(0)"/>
</g>
<g id="labels">
<text x="778.5" y="765.2" font-size="28.6" text-anchor="middle" font-weight="normal" fill="#24211d" stroke="#24211d" stroke-width="0.9">STORAGE</text>
<text x="778.5" y="797.2" font-size="28.6" text-anchor="middle" font-weight="normal" fill="#24211d" stroke="#24211d" stroke-width="0.9">8'2" x 11'9"</text>
<text x="778.5" y="829.2" font-size="28.6" text-anchor="middle" font-weight="normal" fill="#24211d" stroke="#24211d" stroke-width="0.9">88 sq ft</text>
<text x="1275.8" y="780.6" font-size="28.6" text-anchor="middle" font-weight="normal" fill="#24211d" stroke="#24211d" stroke-width="0.9">LIVING</text>
<text x="1275.8" y="812.6" font-size="28.6" text-anchor="middle" font-weight="normal" fill="#24211d" stroke="#24211d" stroke-width="0.9">23'1" x 11'4"</text>
<text x="1275.8" y="844.6" font-size="28.6" text-anchor="middle" font-weight="normal" fill="#24211d" stroke="#24211d" stroke-width="0.9">237 sq ft</text>
<text x="2836.6" y="760.2" font-size="28.6" text-anchor="middle" font-weight="normal" fill="#24211d" stroke="#24211d" stroke-width="0.9">PATIO</text>
<text x="2836.6" y="792.2" font-size="28.6" text-anchor="middle" font-weight="normal" fill="#24211d" stroke="#24211d" stroke-width="0.9">20'2" x 38'2"</text>
<text x="2836.6" y="824.2" font-size="28.6" text-anchor="middle" font-weight="normal" fill="#24211d" stroke="#24211d" stroke-width="0.9">417 sq ft</text>
<text x="1434.0" y="1348.2" font-size="28.6" text-anchor="middle" font-weight="normal" fill="#24211d" stroke="#24211d" stroke-width="0.9">UTILITY</text>
<text x="1434.0" y="1380.2" font-size="28.6" text-anchor="middle" font-weight="normal" fill="#24211d" stroke="#24211d" stroke-width="0.9">9'2" x 9'7"</text>
<text x="1434.0" y="1412.2" font-size="28.6" text-anchor="middle" font-weight="normal" fill="#24211d" stroke="#24211d" stroke-width="0.9">73 sq ft</text>
<text x="2251.0" y="1200.2" font-size="28.6" text-anchor="middle" font-weight="normal" fill="#24211d" stroke="#24211d" stroke-width="0.9">KITCHEN</text>
<text x="2251.0" y="1232.2" font-size="28.6" text-anchor="middle" font-weight="normal" fill="#24211d" stroke="#24211d" stroke-width="0.9">9'3" x 13'7"</text>
<text x="2251.0" y="1264.2" font-size="28.6" text-anchor="middle" font-weight="normal" fill="#24211d" stroke="#24211d" stroke-width="0.9">118 sq ft</text>
<text x="2588.0" y="1331.2" font-size="28.6" text-anchor="middle" font-weight="normal" fill="#24211d" stroke="#24211d" stroke-width="0.9">BREAKFAST</text>
<text x="2588.0" y="1363.2" font-size="28.6" text-anchor="middle" font-weight="normal" fill="#24211d" stroke="#24211d" stroke-width="0.9">11'9" x 13'7"</text>
<text x="2588.0" y="1395.2" font-size="28.6" text-anchor="middle" font-weight="normal" fill="#24211d" stroke="#24211d" stroke-width="0.9">113 sq ft</text>
<text x="2220.0" y="1890.2" font-size="28.6" text-anchor="middle" font-weight="normal" fill="#24211d" stroke="#24211d" stroke-width="0.9">BEDROOM</text>
<text x="2220.0" y="1922.2" font-size="28.6" text-anchor="middle" font-weight="normal" fill="#24211d" stroke="#24211d" stroke-width="0.9">19'1" x 14'4"</text>
<text x="2220.0" y="1954.2" font-size="28.6" text-anchor="middle" font-weight="normal" fill="#24211d" stroke="#24211d" stroke-width="0.9">215 sq ft</text>
<text x="1461.6" y="2003.2" font-size="28.6" text-anchor="middle" font-weight="normal" fill="#24211d" stroke="#24211d" stroke-width="0.9">4PC BATH</text>
<text x="1461.6" y="2035.2" font-size="28.6" text-anchor="middle" font-weight="normal" fill="#24211d" stroke="#24211d" stroke-width="0.9">6'3" x 13'11"</text>
<text x="1461.6" y="2067.2" font-size="28.6" text-anchor="middle" font-weight="normal" fill="#24211d" stroke="#24211d" stroke-width="0.9">74 sq ft</text>
<text x="1853.0" y="1962.2" font-size="28.6" text-anchor="middle" font-weight="normal" fill="#24211d" stroke="#24211d" stroke-width="0.9">WIC</text>
<text x="1841.0" y="1189.5" font-size="22.8" text-anchor="middle" font-weight="normal" fill="#24211d" stroke="#24211d" stroke-width="0.9">STORAGE</text>
<text x="1670.3" y="1431.6" font-size="28.6" text-anchor="middle" font-weight="normal" fill="#24211d" stroke="#24211d" stroke-width="0.9">UP</text>
<text x="1678.0" y="1545.6" font-size="28.6" text-anchor="middle" font-weight="normal" fill="#24211d" stroke="#24211d" stroke-width="0.9">HALL</text>
<text x="1956.8" y="2260.0" font-size="22.3" text-anchor="middle" font-weight="normal" fill="#24211d" stroke="#24211d" stroke-width="0.9">CLOSET</text>
<text font-size="28.6" text-anchor="middle" fill="#24211d" stroke="#24211d" stroke-width="0.9" transform="translate(1747.8,2225.6) rotate(-90)">LAUNDRY</text>
<text font-size="28.6" text-anchor="middle" fill="#24211d" stroke="#24211d" stroke-width="0.9" transform="translate(1158,1207.5) rotate(90)">WH</text>
<text font-size="28.6" text-anchor="middle" fill="#24211d" stroke="#24211d" stroke-width="0.9" transform="translate(1107,1320) rotate(90)">FN</text>
</g>
<rect x="217.0" y="2648.0" width="418.5" height="18.0" fill="#fff" stroke="#555" stroke-width="2.5" rx="0" />
<rect x="319.6" y="2646.5" width="107.8" height="21.0" fill="#111" />
<rect x="528.6" y="2646.5" width="107.9" height="21.0" fill="#111" />
<text x="224.5" y="2628.0" font-size="41" text-anchor="middle" font-weight="normal" fill="#111" >0</text>
<text x="425.6" y="2628.0" font-size="41" text-anchor="middle" font-weight="normal" fill="#111" >4</text>
<text x="634.5" y="2628.0" font-size="41" text-anchor="middle" font-weight="normal" fill="#111" >8</text>
<text x="665.0" y="2669.5" font-size="41" text-anchor="start" font-weight="normal" fill="#111" >ft</text>
<text x="1920.0" y="2660.5" font-size="34.2" text-anchor="middle" font-weight="normal" fill="#111" >PREPARED: 2025/08/09</text>
<g id="compass">
<circle cx="3545" cy="2615" r="68.8" fill="#fff" stroke="#b9b9b9" stroke-width="3"/>
<circle cx="3545" cy="2615.5" r="51" fill="#a6d8f7"/>
<polygon points="3522.1,2569.1 3528.2,2622.6 3559.3,2606.9" fill="#e3111a"/>
<polygon points="3566,2660.4 3528.2,2622.6 3559.3,2606.9" fill="#fff"/>
<text font-size="31" text-anchor="middle" fill="#111" stroke="#111" stroke-width="0.8" transform="translate(3508.7,2535.5) rotate(-27)" y="10.7">N</text>
</g>
<rect x="138.0" y="2722.5" width="3565.0" height="7.5" fill="#111" />
<text x="150.5" y="2784.3" font-size="34" text-anchor="start" font-weight="normal" fill="#111" >White regions are excluded from total floor area in iGUIDE floor plans. All room dimensions and floor areas must be considered approximate and are subject to independent verification.</text>
<text x="3826.0" y="2960.0" font-size="30.8" text-anchor="end" font-weight="normal" fill="#a8a8a8" >MLS®1022252</text>
</svg></body></html>
